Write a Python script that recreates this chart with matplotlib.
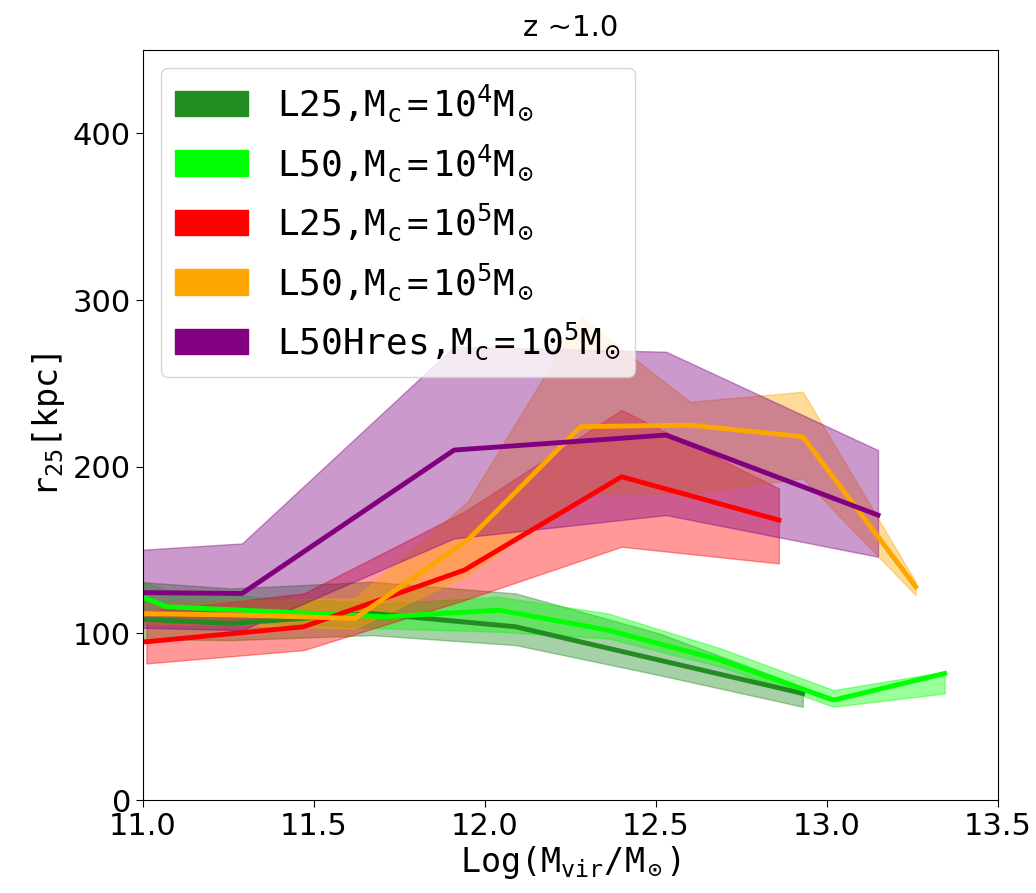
import matplotlib
matplotlib.use("Agg")
import matplotlib.pyplot as plt
from matplotlib.patches import Patch

plt.rcParams["mathtext.fontset"] = "custom"
plt.rcParams["mathtext.rm"] = "DejaVu Sans Mono"
plt.rcParams["mathtext.it"] = "DejaVu Sans Mono"
plt.rcParams["mathtext.default"] = "rm"

# L25, Mc=1e4
x_l25_4 = [10.84, 11.26, 11.67, 12.09, 12.51, 12.93]
med_l25_4 = [110, 106, 112, 104, 84, 64]
lo_l25_4 = [97, 96, 99, 93, 75, 56]
hi_l25_4 = [133, 127, 131, 124, 100, 68]

# L50, Mc=1e4
x_l50_4 = [10.74, 11.07, 11.39, 11.71, 12.04, 12.36, 12.69, 13.02, 13.345]
med_l50_4 = [143, 116, 113, 110, 114, 102, 84, 60, 76]
lo_l50_4 = [135, 108, 106, 103, 101, 97, 80, 56, 64]
hi_l50_4 = [150, 126, 121, 118, 122, 112, 91, 66, 77]

# L25, Mc=1e5
x_l25_5 = [11.01, 11.47, 11.94, 12.40, 12.86]
med_l25_5 = [95, 104, 138, 194, 168]
lo_l25_5 = [82, 90, 120, 152, 142]
hi_l25_5 = [113, 124, 173, 234, 187]

# L50, Mc=1e5
x_l50_5 = [10.96, 11.29, 11.62, 11.95, 12.28, 12.60, 12.93, 13.26]
med_l50_5 = [112, 111, 109, 156, 224, 225, 218, 128]
lo_l50_5 = [106, 105, 103, 135, 184, 184, 193, 123]
hi_l50_5 = [118, 120, 121, 179, 290, 239, 245, 131]

# L50Hres, Mc=1e5
x_hres = [10.67, 11.29, 11.91, 12.53, 13.15]
med_hres = [125, 124, 210, 219, 171]
lo_hres = [105, 102, 157, 171, 146]
hi_hres = [146, 154, 272, 269, 210]

labels = [
    r"L25,$M_c=10^4M_\odot$",
    r"L50,$M_c=10^4M_\odot$",
    r"L25,$M_c=10^5M_\odot$",
    r"L50,$M_c=10^5M_\odot$",
    r"L50Hres,$M_c=10^5M_\odot$",
]
colors = ["forestgreen", "lime", "red", "orange", "purple"]

series = [
    (x_l25_4, med_l25_4, lo_l25_4, hi_l25_4),
    (x_l50_4, med_l50_4, lo_l50_4, hi_l50_4),
    (x_l25_5, med_l25_5, lo_l25_5, hi_l25_5),
    (x_l50_5, med_l50_5, lo_l50_5, hi_l50_5),
    (x_hres, med_hres, lo_hres, hi_hres),
]

fig = plt.figure(figsize=(10.36, 8.93), dpi=100)
ax = fig.add_axes([0.138, 0.104, 0.825, 0.84])

for (x, med, lo, hi), c in zip(series, colors):
    ax.fill_between(x, lo, hi, color=c, alpha=0.4)
for (x, med, lo, hi), c in zip(series, colors):
    ax.plot(x, med, color=c, linewidth=3.5)

ax.set_xlim(11.0, 13.5)
ax.set_ylim(0, 450)
ax.set_xticks([11.0, 11.5, 12.0, 12.5, 13.0, 13.5])
ax.set_yticks([0, 100, 200, 300, 400])
ax.tick_params(labelsize=22, length=5)
ax.set_xlabel(r"Log($M_{vir}/M_\odot$)", fontsize=24, family="DejaVu Sans Mono", labelpad=2)
ax.set_ylabel(r"$r_{25}$[kpc]", fontsize=24, family="DejaVu Sans Mono")
ax.set_title("z ~1.0", fontsize=21, pad=10)

handles = [Patch(color=c, label=l) for c, l in zip(colors, labels)]
ax.legend(handles=handles, loc="upper left", prop={"family": "DejaVu Sans Mono", "size": 26})

fig.savefig("out.png", dpi=100)
